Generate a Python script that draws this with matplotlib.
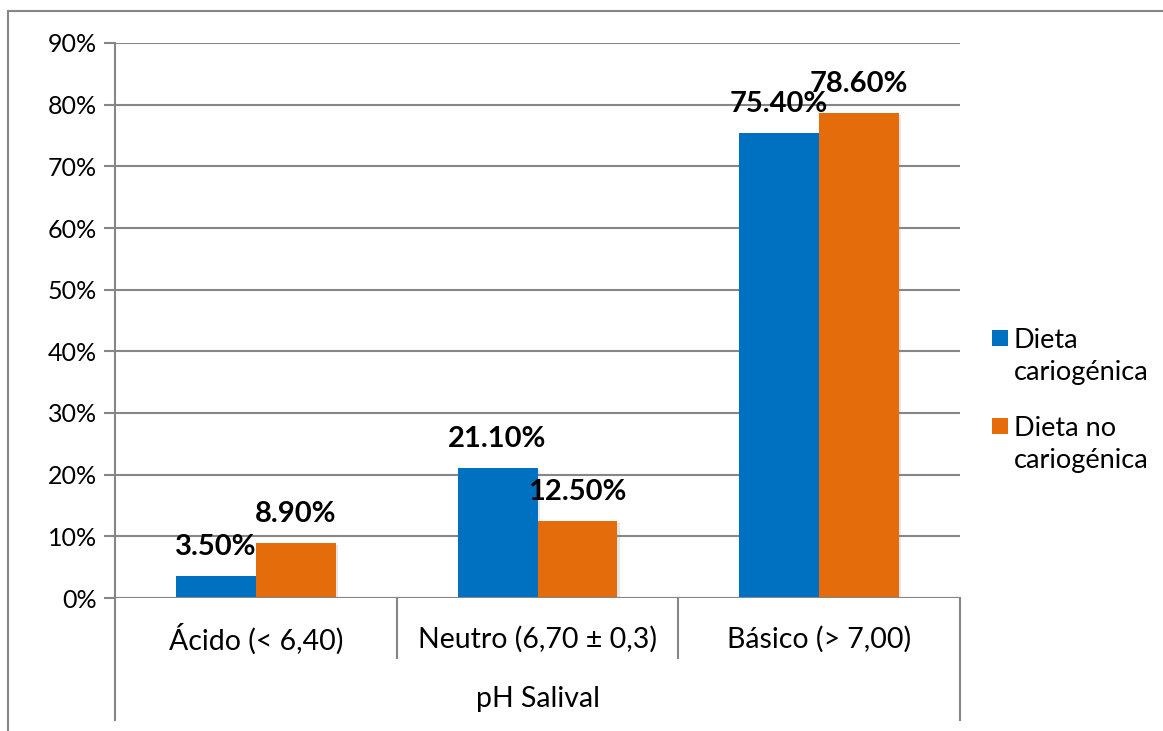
import matplotlib
matplotlib.use("Agg")
import matplotlib.pyplot as plt
import matplotlib.patheffects as pe
from matplotlib.transforms import blended_transform_factory
from matplotlib.lines import Line2D
from matplotlib.patches import Rectangle
import numpy as np

plt.rcParams['font.family'] = ['Lato', 'DejaVu Sans']

categories = ["Ácido (< 6,40)", "Neutro (6,70 ± 0,3)", "Básico (> 7,00)"]
series_names = ["Dieta\ncariogénica", "Dieta no\ncariogénica"]
cariogenica = [3.5, 21.1, 75.4]
no_cariogenica = [8.9, 12.5, 78.6]
yticks = [0, 10, 20, 30, 40, 50, 60, 70, 80, 90]
axis_title = "pH Salival"

colors = ["#0070C0", "#E46C0A"]
grid_color = "#868686"

W, H = 1163, 731
fig = plt.figure(figsize=(W / 100, H / 100), dpi=100)
fig.patch.set_facecolor("white")

# outer chart frame
fig.add_artist(Line2D([8 / W, 8 / W], [0, 1 - 11 / H], transform=fig.transFigure,
                      color=grid_color, lw=1.5))
fig.add_artist(Line2D([8 / W, 1], [1 - 11 / H, 1 - 11 / H], transform=fig.transFigure,
                      color=grid_color, lw=1.5))

left, right, top, bottom = 115, 960, 43, 598
ax = fig.add_axes([left / W, 1 - bottom / H, (right - left) / W, (bottom - top) / H])

x = np.arange(len(categories))
bw = 0.284
shadow = [pe.SimplePatchShadow(offset=(1.5, -1.5), shadow_rgbFace="#888888", alpha=0.2),
          pe.Normal()]
b1 = ax.bar(x - bw / 2, cariogenica, bw, color=colors[0], zorder=3)
b2 = ax.bar(x + bw / 2, no_cariogenica, bw, color=colors[1], zorder=3)
for bars in (b1, b2):
    for r in bars:
        r.set_path_effects(shadow)

for bars, vals in ((b1, cariogenica), (b2, no_cariogenica)):
    for r, v in zip(bars, vals):
        ax.annotate(f"{v:.2f}%", (r.get_x() + r.get_width() / 2, v),
                    xytext=(0, 29), textcoords="offset pixels",
                    ha="center", va="center", fontsize=21, fontweight="bold",
                    color="black", zorder=5)

ax.set_xlim(-0.5, 2.5)
ax.set_ylim(0, 90)
ax.set_yticks(yticks)
ax.set_yticklabels([f"{t}%" for t in yticks], fontsize=18)
ax.yaxis.grid(True, color=grid_color, lw=1.5, zorder=0)
ax.set_axisbelow(True)
ax.tick_params(axis="y", length=8, width=1.5, color=grid_color, pad=5)
ax.set_xticks([])
for s in ("top", "right", "bottom"):
    ax.spines[s].set_visible(False)
ax.spines["left"].set_color(grid_color)
ax.spines["left"].set_linewidth(1.5)
ax.axhline(0, color=grid_color, lw=1.5, zorder=4)

# multi-level category axis
tr = blended_transform_factory(ax.transData, ax.transAxes)
span = bottom - top
inner = 60 / span
outer = 122 / span
for xe in (-0.5, 2.5):
    ax.add_line(Line2D([xe, xe], [0, -outer], transform=tr, color=grid_color,
                       lw=1.5, clip_on=False))
for xe in (0.5, 1.5):
    ax.add_line(Line2D([xe, xe], [0, -inner], transform=tr, color=grid_color,
                       lw=1.5, clip_on=False))
for xi, lab in zip(x, categories):
    ax.text(xi, -41 / span, lab, transform=tr, ha="center", va="center", fontsize=20.5)
ax.text(1, -101 / span, axis_title, transform=tr, ha="center", va="center", fontsize=20.5)

# legend: swatch aligned with the first line of each two-line label
legend_tops = [338, 426]
for c, name, yc in zip(colors, series_names, legend_tops):
    fig.add_artist(Rectangle((992 / W, 1 - (yc + 8) / H), 16 / W, 16 / H,
                             transform=fig.transFigure, facecolor=c, edgecolor="none"))
    fig.text(1014 / W, 1 - (yc - 10) / H, name, ha="left", va="top",
             fontsize=19.5, linespacing=1.35)

fig.savefig("out.png", dpi=100)
